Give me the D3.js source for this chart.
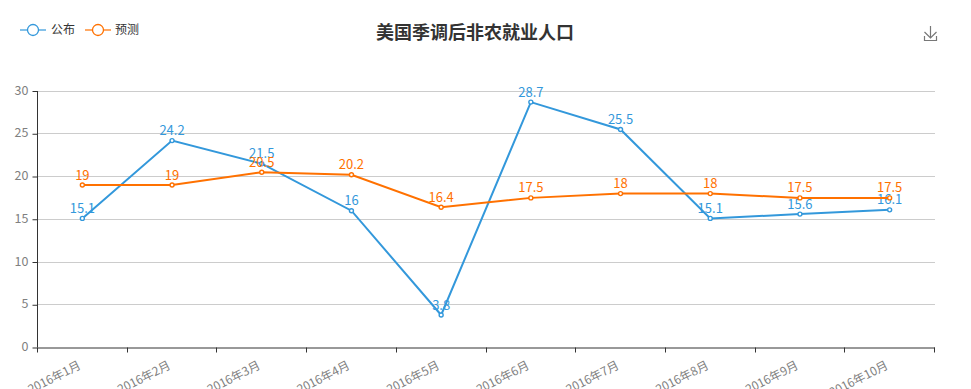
<!DOCTYPE html>
<html><head><meta charset="utf-8">
<script src="https://cdn.jsdelivr.net/npm/d3@7/dist/d3.min.js"></script>
<style>html,body{margin:0;padding:0;background:#fff;overflow:hidden}svg{display:block}text{font-family:"Noto Sans CJK SC","Noto Sans",sans-serif}</style>
</head><body><svg id="c" width="971" height="389"></svg>
<script>
const categories=["2016年1月","2016年2月","2016年3月","2016年4月","2016年5月","2016年6月","2016年7月","2016年8月","2016年9月","2016年10月"];
const published=[15.1,24.2,21.5,16,3.8,28.7,25.5,15.1,15.6,16.1];
const forecast=[19,19,20.5,20.2,16.4,17.5,18,18,17.5,17.5];
const yTicks=[0,5,10,15,20,25,30];
const seriesNames=["公布","预测"];
const titleText="美国季调后非农就业人口";
const colors=["#3398DB","#FF7100"];
const svg=d3.select("#c");
const x=d3.scaleBand().domain(categories).range([37.5,934.5]);
const y=d3.scaleLinear().domain([0,30]).range([347,90.5]);
const axisColor="#333",tickText="#808080";

svg.append("g").selectAll("line").data(yTicks.filter(d=>d>0)).join("line")
  .attr("x1",37.5).attr("x2",935).attr("y1",d=>Math.round(y(d))+.5).attr("y2",d=>Math.round(y(d))+.5)
  .attr("stroke","#ccc");

const gx=svg.append("g").attr("transform",`translate(0,${Math.round(y(0))+.5})`);
gx.call(d3.axisBottom(x).tickSizeOuter(0).tickSize(0).tickFormat(""));
gx.select(".domain").attr("stroke",axisColor);
const edges=categories.map(c=>x(c)).concat([x.range()[1]]);
gx.selectAll("line.edge").data(edges).join("line").attr("class","edge")
  .attr("x1",d=>Math.round(d-.5)+.5).attr("x2",d=>Math.round(d-.5)+.5).attr("y1",0).attr("y2",5).attr("stroke",axisColor);
gx.selectAll("text.lab").data(categories).join("text").attr("class","lab")
  .attr("transform",d=>`translate(${x(d)+x.bandwidth()/2-5},12) rotate(-27)`)
  .attr("text-anchor","end").attr("dy","0.8em").attr("font-size",12).attr("fill",tickText).text(d=>d);

const gy=svg.append("g").attr("transform","translate(37.5,.5)");
gy.call(d3.axisLeft(y).tickValues(yTicks).tickSize(5).tickPadding(4));
gy.select(".domain").attr("stroke",axisColor).attr("d",`M0,${y(30)}V${y(0)}`);
gy.selectAll("line").attr("stroke",axisColor);
gy.selectAll("text").attr("font-size",12.5).attr("fill",tickText).attr("y",-1)
  .style("font-family",'"Noto Sans CJK SC","Noto Sans",sans-serif');

const cx=d=>x(d)+x.bandwidth()/2;
[published,forecast].forEach((vals,i)=>{
  const pts=vals.map((v,k)=>[categories[k],v]);
  const g=svg.append("g");
  g.append("path").attr("d",d3.line().x(d=>cx(d[0])).y(d=>y(d[1])+.5)(pts))
    .attr("fill","none").attr("stroke",colors[i]).attr("stroke-width",2);
  g.selectAll("circle").data(pts).join("circle").attr("cx",d=>cx(d[0])).attr("cy",d=>y(d[1])+.5).attr("r",2)
    .attr("fill","#fff").attr("stroke",colors[i]).attr("stroke-width",1.4);
  g.selectAll("text").data(pts).join("text").attr("x",d=>cx(d[0])).attr("y",d=>y(d[1])-5)
    .attr("text-anchor","middle").attr("font-size",13).attr("fill",colors[i]).text(d=>d[1]);
});

svg.append("text").attr("x",475).attr("y",39).attr("text-anchor","middle").attr("font-size",18).attr("font-weight",700).attr("fill","#333").text(titleText);

const legX=d3.scalePoint().domain(seriesNames).range([20,85]);
seriesNames.forEach((n,i)=>{
  const g=svg.append("g").attr("transform",`translate(${legX(n)},30)`);
  g.append("line").attr("x1",0).attr("x2",26).attr("y1",0).attr("y2",0).attr("stroke",colors[i]).attr("stroke-width",2).attr("opacity",.6);
  g.append("circle").attr("cx",13).attr("r",5.5).attr("fill","#fff").attr("stroke",colors[i]).attr("stroke-width",1.3);
  g.append("text").attr("x",i?30:31).attr("y",4).attr("font-size",12).attr("fill","#333").text(n);
});

const dl=svg.append("g").attr("fill","none").attr("stroke","#777").attr("stroke-width",1.2);
dl.append("path").attr("d","M930.5,26V38M924.5,32L930.5,38L936.5,32M924.5,36V40.5H936.5V36");
</script></body></html>
